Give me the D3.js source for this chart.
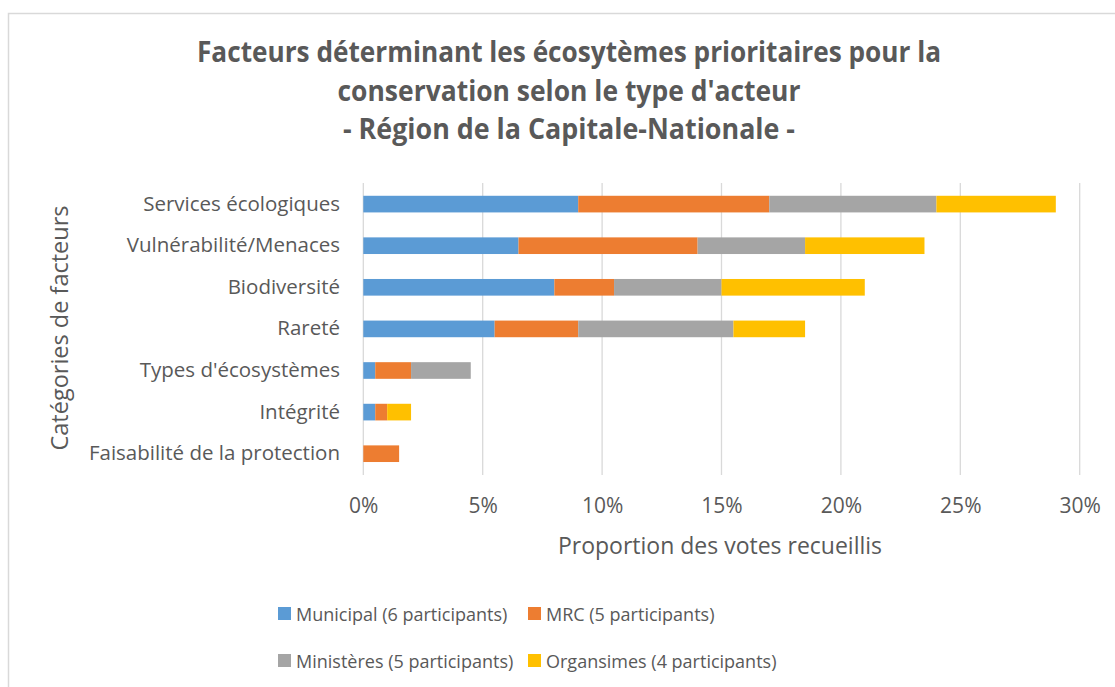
<!DOCTYPE html>
<html>
<head>
<meta charset="utf-8">
<script src="https://d3js.org/d3.v7.min.js"></script>
<style>
  body { margin: 0; background: #fff; }
  text { font-family: "Open Sans", "Noto Sans", sans-serif; fill: #595959; }
</style>
</head>
<body>
<div id="my_dataviz"></div>
<script>
// data (proportion of votes)
var categories = ["Services écologiques", "Vulnérabilité/Menaces", "Biodiversité", "Rareté",
  "Types d'écosystèmes", "Intégrité", "Faisabilité de la protection"];
var municipal  = [0.09, 0.065, 0.08, 0.055, 0.005, 0.005, 0];
var mrc        = [0.08, 0.075, 0.025, 0.035, 0.015, 0.005, 0.015];
var ministeres = [0.07, 0.045, 0.045, 0.065, 0.025, 0, 0];
var organismes = [0.05, 0.05, 0.06, 0.03, 0, 0.01, 0];
var seriesNames = ["Municipal (6 participants)", "MRC (5 participants)",
  "Ministères (5 participants)", "Organsimes (4 participants)"];
var seriesColors = ["#5B9BD5", "#ED7D31", "#A5A5A5", "#FFC000"];
var xTicks = [0, 0.05, 0.10, 0.15, 0.20, 0.25, 0.30];

var width = 1115, height = 687;

var svg = d3.select("#my_dataviz")
  .append("svg")
    .attr("width", width)
    .attr("height", height);

// chart frame (right and bottom edges fall outside the picture)
svg.append("rect")
  .attr("x", 8.5).attr("y", 13.5)
  .attr("width", 1120).attr("height", 700)
  .style("fill", "#fff")
  .style("stroke", "#D9D9D9")
  .style("stroke-width", 1.5);

// title, three lines
var titleLines = [
  ["Facteurs déterminant les écosytèmes prioritaires pour la", 744],
  ["conservation selon le type d'acteur", 463],
  ["- Région de la Capitale-Nationale -", 452]
];
svg.selectAll(".title")
  .data(titleLines)
  .enter()
  .append("text")
    .attr("class", "title")
    .attr("x", 569)
    .attr("y", function(d, i) { return 62 + i * 38.5; })
    .attr("text-anchor", "middle")
    .attr("textLength", function(d) { return d[1]; })
    .attr("lengthAdjust", "spacingAndGlyphs")
    .style("font-size", "28px")
    .style("font-weight", "bold")
    .text(function(d) { return d[0]; });

// scales
var x = d3.scaleLinear()
  .domain([0, 0.30])
  .range([363.3, 1079.7]);

var y = d3.scaleBand()
  .domain(categories)
  .range([183.3, 474.5])
  .paddingInner(0.6)
  .paddingOuter(0.3);

// vertical gridlines
svg.append("g")
  .selectAll("line")
  .data(xTicks)
  .enter()
  .append("line")
    .attr("x1", function(d) { return x(d); })
    .attr("x2", function(d) { return x(d); })
    .attr("y1", 183)
    .attr("y2", 475)
    .style("stroke", "#D9D9D9")
    .style("stroke-width", 1.3);

// x axis tick labels
var xAxis = svg.append("g")
  .attr("transform", "translate(0,475)")
  .call(d3.axisBottom(x).tickValues(xTicks).tickFormat(d3.format(".0%")).tickSize(0).tickPadding(0));
xAxis.select(".domain").remove();
xAxis.selectAll("text")
  .attr("y", 38)
  .attr("dy", null)
  .style("font-size", "21px")
  .style("fill", "#595959")
  .style("font-family", "'Open Sans', sans-serif");

// y axis category labels
var yAxis = svg.append("g")
  .attr("transform", "translate(363,0)")
  .call(d3.axisLeft(y).tickSize(0).tickPadding(23));
yAxis.select(".domain").remove();
yAxis.selectAll("text")
  .style("font-size", "20.5px")
  .style("fill", "#595959")
  .style("font-family", "'Open Sans', sans-serif");

// stack the series
var table = categories.map(function(c, i) {
  return { cat: c, s0: municipal[i], s1: mrc[i], s2: ministeres[i], s3: organismes[i] };
});
var stacked = d3.stack().keys(["s0", "s1", "s2", "s3"])(table);

svg.append("g")
  .selectAll("g")
  .data(stacked)
  .enter()
  .append("g")
    .style("fill", function(d, i) { return seriesColors[i]; })
  .selectAll("rect")
  .data(function(d) { return d; })
  .enter()
  .append("rect")
    .attr("x", function(d) { return x(d[0]); })
    .attr("y", function(d) { return y(d.data.cat); })
    .attr("width", function(d) { return x(d[1]) - x(d[0]); })
    .attr("height", y.bandwidth());

// axis titles
svg.append("text")
  .attr("x", 720)
  .attr("y", 554)
  .attr("text-anchor", "middle")
  .style("font-size", "23px")
  .text("Proportion des votes recueillis");

svg.append("text")
  .attr("transform", "translate(68,328) rotate(-90)")
  .attr("text-anchor", "middle")
  .style("font-size", "23.5px")
  .text("Catégories de facteurs");

// legend, two rows of two
var legend = svg.append("g")
  .selectAll("g")
  .data(seriesNames)
  .enter()
  .append("g")
    .attr("transform", function(d, i) {
      return "translate(" + (i % 2 == 0 ? 278 : 528) + "," + (i < 2 ? 607 : 654) + ")";
    });
legend.append("rect")
  .attr("width", 13)
  .attr("height", 13)
  .style("fill", function(d, i) { return seriesColors[i]; });
legend.append("text")
  .attr("x", 18)
  .attr("y", 13.5)
  .style("font-size", "18px")
  .text(function(d) { return d; });
</script>
</body>
</html>
